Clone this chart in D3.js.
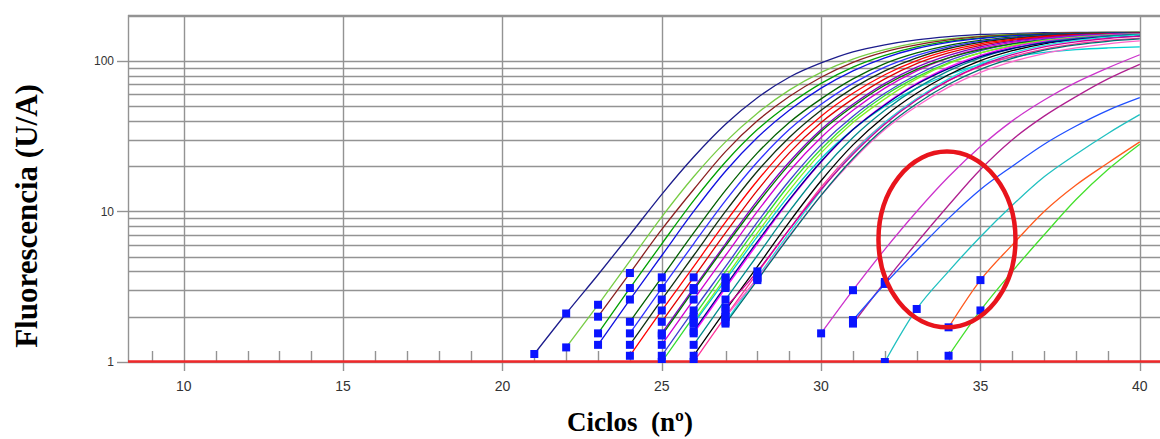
<!DOCTYPE html>
<html>
<head>
<meta charset="utf-8">
<script src="https://d3js.org/d3.v7.min.js"></script>
<style>
  body { margin: 0; background: #fff; }
  svg { display: block; }
</style>
</head>
<body>
<div id="chart"></div>
<script>
// qPCR amplification curves (log fluorescence vs cycle)

var width = 1160;
var height = 439;
var plot = { left: 128, top: 15, right: 1160, bottom: 362 };

var xTicks = [10, 15, 20, 25, 30, 35, 40];
var yTicks = [1, 10, 100];

// first cycle of each curve
var startCycle = [21, 22, 23, 23, 23, 24, 24, 24, 24, 25, 25, 25, 25, 25, 25,
                  26, 26, 26, 26, 26, 26, 26, 27, 27, 27, 27,
                  30, 31, 31, 32, 34, 34];

var curveColor = ["#1c1c8c", "#77cc44", "#8b2020", "#00a000", "#1010e0", "#006000", "#3030ff", "#103010", "#ff0000",
                  "#e00000", "#8000c0", "#d000d0", "#4040d0", "#007000", "#33dd33",
                  "#88ee22", "#ff00ff", "#00d0d0", "#000000", "#008b8b", "#ff3399", "#000090",
                  "#20e0e0", "#ff66cc", "#007070", "#cc0099",
                  "#cc33cc", "#b0208f", "#2050ff", "#20c0c0", "#ff5a1e", "#44e02c"];

// fluorescence at each cycle from startCycle to 40
var fluorescence = [
  [1.13, 2.1, 3.8, 7, 13, 23, 38, 57, 78, 97, 115, 128, 138, 145, 150, 152, 154, 155, 155, 155],
  [1.25, 2.4, 4.7, 9.2, 17, 29, 45, 64, 84, 103, 119, 132, 140, 146, 150, 152, 154, 155, 155],
  [2.0, 3.9, 7.6, 14, 25, 40, 58, 78, 98, 115, 128, 138, 145, 149, 152, 154, 155, 155],
  [1.55, 3.1, 6.1, 11.8, 21.3, 35, 51.5, 71, 91, 109, 124, 135, 142.5, 148, 150.5, 152.5, 153.5, 154.5],
  [1.3, 2.6, 5.1, 10, 18.5, 31, 47, 66, 86, 105, 121, 133, 141, 147, 150, 152, 153, 154],
  [1.85, 3.65, 7.2, 13.8, 24.5, 39, 56, 76, 96, 113, 127, 137, 144, 149, 151, 153, 154],
  [1.55, 3.1, 6.1, 11.8, 21.3, 35, 51.5, 71, 91, 109, 124, 135, 142.5, 148, 150.5, 152.5, 153.5],
  [1.3, 2.6, 5.1, 10, 18.5, 31, 47, 66, 86, 105, 121, 133, 141, 147, 150, 152, 153],
  [1.1, 2.2, 4.3, 8.5, 16, 27.7, 43, 61, 81, 100.5, 117, 130, 139, 145.5, 149.5, 151.5, 152.5],
  [1.85, 3.65, 7.2, 13.8, 24.5, 39, 56, 76, 96, 113, 127, 137, 144, 149, 151, 153],
  [1.55, 3.1, 6.1, 11.8, 21.3, 35, 51.5, 71, 91, 109, 124, 135, 142.5, 148, 150.5, 152.5],
  [1.3, 2.6, 5.1, 10, 18.5, 31, 47, 66, 86, 105, 121, 133, 141, 147, 150, 152],
  [1.1, 2.2, 4.3, 8.5, 16, 27.7, 43, 61, 81, 100.5, 117, 130, 139, 145.5, 149.5, 151.5],
  [1.5, 3.0, 5.9, 11.3, 20.5, 34, 50, 69, 88, 105, 119, 130, 137, 142, 145, 147],
  [1.0, 2.0, 4.0, 7.9, 15, 26, 41, 59, 78, 97, 113, 126, 135, 141, 145, 148],
  [1.85, 3.65, 7.2, 13.8, 24.5, 39, 56, 76, 96, 113, 127, 137, 144, 149, 151],
  [1.55, 3.1, 6.1, 11.8, 21.3, 35, 51.5, 71, 91, 109, 124, 135, 142.5, 148, 150.5],
  [1.8, 3.5, 6.8, 12.8, 22.5, 35, 50, 66, 81, 95, 106, 114, 119, 122, 124],
  [1.1, 2.2, 4.3, 8.5, 16, 27.7, 43, 61, 81, 100.5, 117, 130, 139, 145.5, 149.5],
  [1.3, 2.6, 5.1, 10, 18.5, 31, 47, 66, 86, 105, 121, 133, 141, 147, 150],
  [1.0, 2.0, 3.9, 7.6, 14.5, 25, 39, 56, 74, 92, 107, 120, 130, 137, 142],
  [1.6, 3.2, 6.3, 12, 21.5, 35, 51, 70, 89, 107, 121, 132, 139, 144, 147],
  [1.85, 3.65, 7.2, 13.8, 24.5, 39, 56, 76, 96, 113, 127, 137, 144, 149],
  [2.0, 3.6, 6.9, 12.8, 22, 35, 50, 67, 84, 99, 112, 122, 130, 136],
  [1.8, 3.5, 6.8, 12.8, 22.5, 36, 52, 70, 88, 104, 118, 128, 135, 140],
  [2.3, 4.0, 7.6, 14, 24, 38, 55, 74, 93, 110, 124, 134, 141, 146],
  [1.55, 3.0, 5.6, 10, 17, 27, 40, 55, 72, 90, 110],
  [1.8, 3.4, 6.2, 11, 19, 30, 43, 58, 76, 95],
  [1.9, 3.3, 5.5, 9, 14, 20, 28, 37, 47, 57],
  [1.0, 2.25, 4.0, 6.8, 11, 17, 24, 33, 44],
  [1.7, 3.5, 6, 10, 15, 21, 29],
  [1.1, 2.2, 4, 7, 12, 19, 28]
];

// hand-drawn ring around the late curves: cycle span and fluorescence span
var ringCycles = [31.8, 36.1];
var ringValues = [1.7, 25];

var x = d3.scaleLinear().domain([8.25, 40.65]).range([plot.left, plot.right + 0.5]);
var y = d3.scaleLog().domain([1, 202]).range([plot.bottom, plot.top]);

var svg = d3.select("#chart")
    .append("svg")
    .attr("width", width)
    .attr("height", height);

svg.append("defs").append("clipPath")
    .attr("id", "clip")
    .append("rect")
    .attr("x", plot.left)
    .attr("y", plot.top - 1)
    .attr("width", plot.right - plot.left)
    .attr("height", plot.bottom - plot.top + 2);

var grid = svg.append("g").attr("stroke", "#939393").attr("stroke-width", 1.4);

// horizontal grid (log minor lines)
grid.selectAll(".hline")
    .data(y.ticks())
    .enter()
    .append("line")
    .attr("x1", plot.left)
    .attr("x2", plot.right)
    .attr("y1", function(d) { return Math.round(y(d)) + 0.5; })
    .attr("y2", function(d) { return Math.round(y(d)) + 0.5; });

// vertical grid
grid.selectAll(".vline")
    .data(xTicks)
    .enter()
    .append("line")
    .attr("x1", function(d) { return Math.round(x(d)) + 0.5; })
    .attr("x2", function(d) { return Math.round(x(d)) + 0.5; })
    .attr("y1", plot.top)
    .attr("y2", plot.bottom);

// frame (left + top)
grid.append("line")
    .attr("x1", plot.left + 0.5).attr("x2", plot.left + 0.5)
    .attr("y1", plot.top).attr("y2", plot.bottom);
grid.append("line")
    .attr("x1", plot.left).attr("x2", plot.right)
    .attr("y1", plot.top + 0.5).attr("y2", plot.top + 0.5);

// minor cycle ticks inside the plot
grid.selectAll(".minor")
    .data(d3.range(9, 41).filter(function(d) { return d % 5 !== 0; }))
    .enter()
    .append("line")
    .attr("x1", function(d) { return Math.round(x(d)) + 0.5; })
    .attr("x2", function(d) { return Math.round(x(d)) + 0.5; })
    .attr("y1", plot.bottom)
    .attr("y2", plot.bottom - 11);

// major ticks below the axis
grid.selectAll(".xmajor")
    .data(xTicks)
    .enter()
    .append("line")
    .attr("x1", function(d) { return Math.round(x(d)) + 0.5; })
    .attr("x2", function(d) { return Math.round(x(d)) + 0.5; })
    .attr("y1", plot.bottom)
    .attr("y2", plot.bottom + 9);

// y ticks left of the frame
grid.selectAll(".ymajor")
    .data(yTicks)
    .enter()
    .append("line")
    .attr("x1", plot.left - 11)
    .attr("x2", plot.left)
    .attr("y1", function(d) { return Math.round(y(d)) + 0.5; })
    .attr("y2", function(d) { return Math.round(y(d)) + 0.5; });

// tick labels
svg.selectAll(".xlabel")
    .data(xTicks)
    .enter()
    .append("text")
    .attr("x", function(d) { return x(d); })
    .attr("y", 391)
    .attr("text-anchor", "middle")
    .attr("font-family", "'Liberation Sans Narrow', 'Arial Narrow', 'Liberation Sans', sans-serif")
    .attr("font-size", "14px")
    .attr("fill", "#333")
    .text(function(d) { return d; });

svg.selectAll(".ylabel")
    .data(yTicks)
    .enter()
    .append("text")
    .attr("x", plot.left - 14)
    .attr("y", function(d) { return y(d); })
    .attr("dy", "0.35em")
    .attr("text-anchor", "end")
    .attr("font-family", "'Liberation Sans', Arial, sans-serif")
    .attr("font-size", "12px")
    .attr("fill", "#333")
    .text(function(d) { return d; });

// baseline at 1
svg.append("line")
    .attr("x1", plot.left)
    .attr("x2", plot.right)
    .attr("y1", y(1) - 0.5)
    .attr("y2", y(1) - 0.5)
    .attr("stroke", "#f0282a")
    .attr("stroke-width", 2.5);

var curves = fluorescence.map(function(vals, i) {
    return {
        color: curveColor[i],
        points: vals.map(function(v, j) { return { c: startCycle[i] + j, v: v }; })
    };
});

var line = d3.line()
    .x(function(d) { return x(d.c); })
    .y(function(d) { return y(d.v); })
    .curve(d3.curveMonotoneX);

var curveGroup = svg.append("g").attr("clip-path", "url(#clip)");

curveGroup.selectAll(".curve")
    .data(curves)
    .enter()
    .append("path")
    .attr("class", "curve")
    .attr("d", function(d) { return line(d.points); })
    .attr("fill", "none")
    .attr("stroke", function(d) { return d.color; })
    .attr("stroke-width", 1.3);

// blue squares on the first two points of each curve
var markers = [];
curves.forEach(function(d) { markers.push(d.points[0], d.points[1]); });

curveGroup.selectAll(".marker")
    .data(markers)
    .enter()
    .append("rect")
    .attr("x", function(d) { return x(d.c) - 4; })
    .attr("y", function(d) { return y(d.v) - 4; })
    .attr("width", 8)
    .attr("height", 8)
    .attr("fill", "#0a14ff");

// red ring annotation
svg.append("ellipse")
    .attr("cx", (x(ringCycles[0]) + x(ringCycles[1])) / 2)
    .attr("cy", (y(ringValues[0]) + y(ringValues[1])) / 2)
    .attr("rx", (x(ringCycles[1]) - x(ringCycles[0])) / 2)
    .attr("ry", (y(ringValues[0]) - y(ringValues[1])) / 2)
    .attr("fill", "none")
    .attr("stroke", "#e8141c")
    .attr("stroke-width", 4.5);

// axis titles
svg.append("text")
    .attr("x", 630)
    .attr("y", 431)
    .attr("text-anchor", "middle")
    .attr("font-family", "'Liberation Serif', 'Times New Roman', serif")
    .attr("font-weight", "bold")
    .attr("font-size", "27px")
    .attr("fill", "#000")
    .attr("xml:space", "preserve")
    .text("Ciclos  (nº)");

svg.append("text")
    .attr("transform", "translate(37,216) rotate(-90)")
    .attr("text-anchor", "middle")
    .attr("font-family", "'Liberation Serif', 'Times New Roman', serif")
    .attr("font-weight", "bold")
    .attr("font-size", "31px")
    .attr("fill", "#000")
    .text("Fluorescencia (U/A)");
</script>
</body>
</html>
